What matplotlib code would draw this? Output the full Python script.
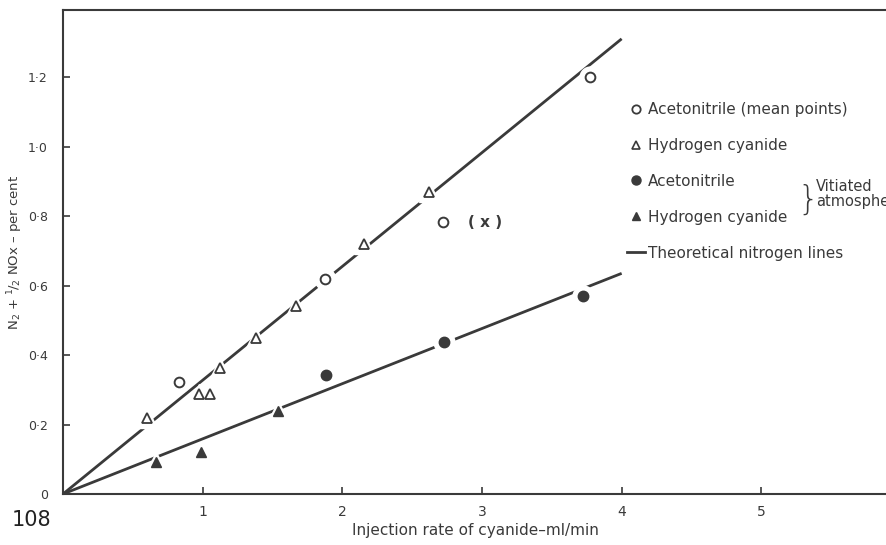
import matplotlib
matplotlib.use("Agg")
import matplotlib.pyplot as plt
from matplotlib.lines import Line2D

# ---- data ----
acn_mean_x = [0.83, 1.875, 2.72, 3.77]
acn_mean_y = [0.323, 0.619, 0.782, 1.199]

hcn_x = [0.60, 0.975, 1.05, 1.125, 1.38, 1.67, 2.157, 2.62]
hcn_y = [0.218, 0.288, 0.288, 0.362, 0.448, 0.541, 0.719, 0.870]

acn_vit_x = [1.88, 2.73, 3.72]
acn_vit_y = [0.342, 0.438, 0.571]

hcn_vit_x = [0.664, 0.986, 1.54]
hcn_vit_y = [0.093, 0.122, 0.239]

theory_x = [0.0, 4.0]
theory_upper_y = [0.0, 1.31]
theory_lower_y = [0.0, 0.635]

x_ticks = [1, 2, 3, 4, 5]
x_ticklabels = ["1", "2", "3", "4", "5"]
y_ticks = [0, 0.2, 0.4, 0.6, 0.8, 1.0, 1.2]
y_ticklabels = ["0", "0·2", "0·4", "0·6", "0·8", "1·0", "1·2"]

ink = "#3a3a3a"
W, H = 887, 545
fig = plt.figure(figsize=(W / 100, H / 100), dpi=100)
ax = fig.add_axes([63 / W, 1 - 494 / H, 1 - 63 / W, (494 - 10) / H])
ax.set_xlim(0, 5.9)
ax.set_ylim(0, 1.393)

# theoretical lines
ax.plot(theory_x, theory_upper_y, color=ink, lw=2.0, zorder=1, solid_capstyle="butt")
ax.plot(theory_x, theory_lower_y, color=ink, lw=2.0, zorder=1, solid_capstyle="butt")

# white halos to break the lines at each marker
for xs, ys, m in [(acn_mean_x, acn_mean_y, "o"), (hcn_x, hcn_y, "^"),
                  (acn_vit_x, acn_vit_y, "o"), (hcn_vit_x, hcn_vit_y, "^")]:
    ax.plot(xs, ys, linestyle="none", marker=m, ms=15, mfc="white", mec="white", zorder=2)

ax.plot(acn_mean_x, acn_mean_y, linestyle="none", marker="o", ms=7, mfc="white",
        mec=ink, mew=1.4, zorder=3)
ax.plot(hcn_x, hcn_y, linestyle="none", marker="^", ms=6.5, mfc="white",
        mec=ink, mew=1.3, zorder=3)
ax.plot(acn_vit_x, acn_vit_y, linestyle="none", marker="o", ms=7.5, mfc=ink,
        mec=ink, zorder=3)
ax.plot(hcn_vit_x, hcn_vit_y, linestyle="none", marker="^", ms=7, mfc=ink,
        mec=ink, zorder=3)

ax.annotate("( x )", (acn_mean_x[2], acn_mean_y[2]), xytext=(18, 0),
            textcoords="offset points", va="center", ha="left", fontsize=11,
            color=ink, fontweight="bold")

# axes styling
for s in ["left", "bottom", "top"]:
    ax.spines[s].set_color(ink)
    ax.spines[s].set_linewidth(1.5)
ax.spines["right"].set_visible(False)
ax.set_xticks(x_ticks)
ax.set_xticklabels(x_ticklabels)
ax.set_yticks(y_ticks)
ax.set_yticklabels(y_ticklabels)
ax.tick_params(direction="in", length=5, width=1.2, colors=ink, labelsize=10,
               labelcolor=ink)
ax.tick_params(axis="y", pad=11, labelsize=9)
ax.tick_params(axis="x", pad=8)

ax.set_xlabel("Injection rate of cyanide–ml/min", fontsize=11, color=ink)
ax.xaxis.set_label_coords((475 - 63) / (W - 63), -(530 - 494) / 484)
ax.xaxis.label.set_va("center")
ax.set_ylabel(r"N$_2$ + $^1\!/_2$ NOx – per cent", fontsize=9.5, color=ink)
ax.yaxis.set_label_coords(-(63 - 15) / (W - 63), 0.5)
ax.yaxis.label.set_va("center")

# legend
handles = [
    Line2D([], [], linestyle="none", marker="o", ms=6, mfc="white", mec=ink, mew=1.3),
    Line2D([], [], linestyle="none", marker="^", ms=6, mfc="white", mec=ink, mew=1.2),
    Line2D([], [], linestyle="none", marker="o", ms=6.5, mfc=ink, mec=ink),
    Line2D([], [], linestyle="none", marker="^", ms=6, mfc=ink, mec=ink),
    Line2D([], [], color=ink, lw=2.0),
]
labels = ["Acetonitrile (mean points)", "Hydrogen cyanide", "Acetonitrile",
          "Hydrogen cyanide", "Theoretical nitrogen lines"]
leg = ax.legend(handles, labels, loc="upper left", bbox_to_anchor=(0.684, 0.81),
                frameon=False, fontsize=11, handlelength=1.2, handletextpad=0.2,
                labelspacing=1.37, borderaxespad=0, borderpad=0)
for t in leg.get_texts():
    t.set_color(ink)

fig.text(797 / W, 1 - 200 / H, "}", fontsize=24, color=ink, va="center", ha="left",
         fontweight="light")
fig.text(816 / W, 1 - 194 / H, "Vitiated\natmosphere", fontsize=10.5, color=ink,
         va="center", ha="left", linespacing=1.05)

fig.text(12 / W, 1 - 520 / H, "108", fontsize=15, color="#222222", va="center", ha="left")

fig.savefig("out.png", dpi=100, facecolor="white")
